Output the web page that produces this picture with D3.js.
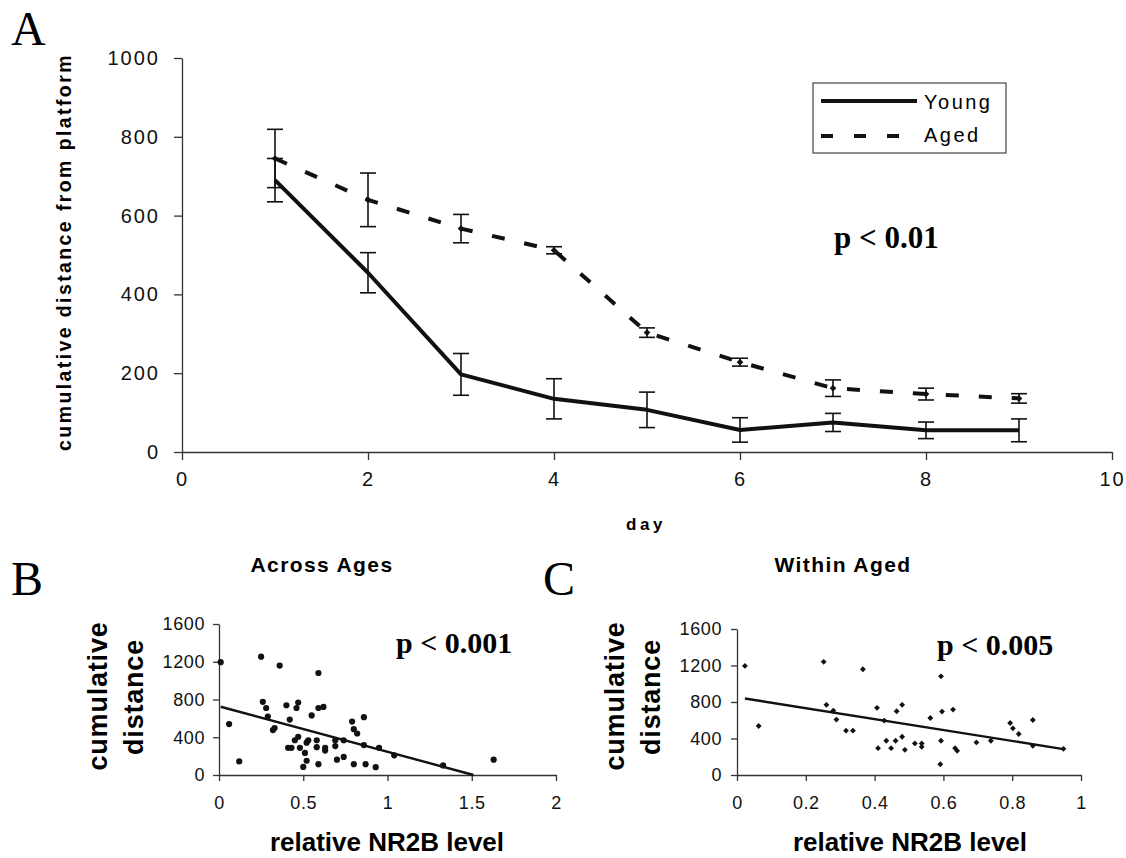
<!DOCTYPE html>
<html>
<head>
<meta charset="utf-8">
<script src="https://cdn.jsdelivr.net/npm/d3@7"></script>
<style>
body { margin: 0; background: #fff; }
svg { display: block; }
</style>
</head>
<body>
<div id="chart"></div>
<script>
// Panel A: learning curves (mean +/- error per day)
var days = [1, 2, 3, 4, 5, 6, 7, 8, 9];
var youngMean = [690, 455, 197, 135, 107, 56, 75, 55, 55];
var youngErr = [55, 51, 53, 51, 45, 31, 23, 21, 29];
var agedMean = [745, 640, 567, 512, 303, 228, 162, 147, 136];
var agedErr = [74, 68, 36, 9, 12, 10, 21, 15, 12];
var dayTicks = [0, 2, 4, 6, 8, 10];
var distTicks = [0, 200, 400, 600, 800, 1000];

// Panel B: across ages (NR2B level vs cumulative distance)
var acrossX = [0.01, 0.06, 0.12, 0.25, 0.36, 0.59, 0.26, 0.28, 0.29, 0.32, 0.33, 0.40, 0.42, 0.47, 0.46, 0.55, 0.59, 0.62,
    0.79, 0.80, 0.82, 0.86, 0.41, 0.43, 0.45, 0.47, 0.48, 0.51, 0.52, 0.53, 0.52, 0.50, 0.58, 0.58, 0.59, 0.63, 0.63,
    0.69, 0.69, 0.70, 0.74, 0.74, 0.80, 0.86, 0.87, 0.93, 0.95, 1.04, 1.33, 1.63];
var acrossY = [1196, 540, 144, 1254, 1160, 1081, 775, 710, 620, 476, 497, 739, 587, 768, 710, 631, 710, 721,
    566, 486, 440, 613, 288, 288, 368, 404, 288, 234, 342, 368, 151, 86, 368, 295, 115, 288, 259,
    306, 368, 162, 368, 191, 115, 317, 115, 83, 288, 209, 101, 162];
var acrossFit = [728, -482];   // intercept, slope
var acrossXTicks = [0, 0.5, 1, 1.5, 2];

// Panel C: within aged
var agedX = [0.023, 0.063, 0.252, 0.366, 0.260, 0.280, 0.289, 0.317, 0.337, 0.407, 0.428, 0.410, 0.434, 0.448, 0.461,
    0.464, 0.480, 0.480, 0.488, 0.517, 0.537, 0.537, 0.562, 0.593, 0.596, 0.593, 0.591, 0.628, 0.634, 0.640,
    0.696, 0.738, 0.794, 0.802, 0.819, 0.860, 0.860, 0.949];
var agedY = [1195, 537, 1240, 1159, 769, 706, 607, 486, 486, 736, 596, 294, 375, 294, 375,
    699, 769, 419, 276, 346, 346, 309, 625, 1081, 695, 375, 118, 717, 294, 265,
    357, 375, 570, 511, 449, 603, 320, 287];
var agedFit = [852, -599];
var agedXTicks = [0, 0.2, 0.4, 0.6, 0.8, 1];
var scatterYTicks = [0, 400, 800, 1200, 1600];

var sans = "'Liberation Sans', Arial, sans-serif";
var serif = "'Liberation Serif', 'Times New Roman', serif";
var plain = d3.format("~g");

var svg = d3.select("#chart").append("svg")
    .attr("width", 1126)
    .attr("height", 858);

// panel letters
svg.append("text").attr("x", 11).attr("y", 45).text("A")
    .style("font-family", serif).style("font-size", "48px");
svg.append("text").attr("x", 11).attr("y", 595).text("B")
    .style("font-family", serif).style("font-size", "48px");
svg.append("text").attr("x", 543).attr("y", 595).text("C")
    .style("font-family", serif).style("font-size", "48px");

function styleAxis(g, fontSize, spacing) {
    g.select(".domain").attr("stroke", "#333").attr("stroke-width", 1.3);
    g.selectAll(".tick line").attr("stroke", "#333").attr("stroke-width", 1.3);
    g.selectAll(".tick text")
        .style("font-family", sans)
        .style("font-size", fontSize + "px")
        .style("letter-spacing", spacing + "px")
        .attr("fill", "#111");
}

// ---------- Panel A ----------
var xA = d3.scaleLinear().domain([0, 10]).range([182, 1112]);
var yA = d3.scaleLinear().domain([0, 1000]).range([452, 58]);

var gx = svg.append("g")
    .attr("transform", "translate(0,452)")
    .call(d3.axisBottom(xA).tickValues(dayTicks).tickFormat(plain)
        .tickSize(8).tickSizeOuter(0).tickPadding(12));
styleAxis(gx, 20, 2);

var gy = svg.append("g")
    .attr("transform", "translate(182,0)")
    .call(d3.axisLeft(yA).tickValues(distTicks).tickFormat(d3.format("d"))
        .tickSize(8).tickSizeOuter(0).tickPadding(14));
styleAxis(gy, 20, 2);

svg.append("text")
    .attr("transform", "translate(71,252) rotate(-90)")
    .attr("text-anchor", "middle")
    .text("cumulative distance from platform")
    .style("font-family", sans).style("font-weight", "bold")
    .style("font-size", "19.5px").style("letter-spacing", "2.4px");

svg.append("text")
    .attr("x", 646).attr("y", 530)
    .attr("text-anchor", "middle")
    .text("day")
    .style("font-family", sans).style("font-weight", "bold")
    .style("font-size", "17px").style("letter-spacing", "3.5px");

var youngData = days.map(function(d, i) { return { day: d, v: youngMean[i], e: youngErr[i] }; });
var agedData = days.map(function(d, i) { return { day: d, v: agedMean[i], e: agedErr[i] }; });

var line = d3.line()
    .x(function(d) { return xA(d.day); })
    .y(function(d) { return yA(d.v); });

function errorBars(data) {
    var g = svg.append("g").attr("stroke", "#111").attr("stroke-width", 1.6);
    var cap = 8;
    data.forEach(function(d) {
        var x = xA(d.day);
        g.append("line").attr("x1", x).attr("x2", x).attr("y1", yA(d.v - d.e)).attr("y2", yA(d.v + d.e));
        g.append("line").attr("x1", x - cap).attr("x2", x + cap).attr("y1", yA(d.v - d.e)).attr("y2", yA(d.v - d.e));
        g.append("line").attr("x1", x - cap).attr("x2", x + cap).attr("y1", yA(d.v + d.e)).attr("y2", yA(d.v + d.e));
    });
}

errorBars(agedData);
errorBars(youngData);

svg.append("path")
    .datum(agedData)
    .attr("d", line)
    .attr("fill", "none")
    .attr("stroke", "#111")
    .attr("stroke-width", 4)
    .attr("stroke-dasharray", "13,20");

svg.append("g").selectAll("path")
    .data(agedData)
    .join("path")
    .attr("d", d3.symbol(d3.symbolSquare, 22))
    .attr("transform", function(d) { return "translate(" + xA(d.day) + "," + yA(d.v) + ") rotate(45)"; })
    .attr("fill", "#111");

svg.append("path")
    .datum(youngData)
    .attr("d", line)
    .attr("fill", "none")
    .attr("stroke", "#111")
    .attr("stroke-width", 4)
    .attr("stroke-linejoin", "round");

// legend
var leg = svg.append("g");
leg.append("rect")
    .attr("x", 813).attr("y", 83).attr("width", 193).attr("height", 70)
    .attr("fill", "#fff").attr("stroke", "#444").attr("stroke-width", 1.2);
leg.append("line")
    .attr("x1", 821).attr("x2", 917).attr("y1", 101).attr("y2", 101)
    .attr("stroke", "#111").attr("stroke-width", 4);
leg.append("line")
    .attr("x1", 821).attr("x2", 900).attr("y1", 136).attr("y2", 136)
    .attr("stroke", "#111").attr("stroke-width", 4).attr("stroke-dasharray", "12,21");
leg.append("text").attr("x", 924).attr("y", 109).text("Young")
    .style("font-family", sans).style("font-size", "20px").style("letter-spacing", "2.5px");
leg.append("text").attr("x", 924).attr("y", 142).text("Aged")
    .style("font-family", sans).style("font-size", "20px").style("letter-spacing", "2.5px");

svg.append("text").attr("x", 834).attr("y", 248).text("p < 0.01")
    .style("font-family", serif).style("font-weight", "bold").style("font-size", "31px");

// ---------- Panels B and C ----------
function scatterPanel(opt) {
    var x = d3.scaleLinear().domain(opt.xDomain).range(opt.xRange);
    var y = d3.scaleLinear().domain([0, 1600]).range(opt.yRange);

    var ax = svg.append("g")
        .attr("transform", "translate(0," + opt.yRange[0] + ")")
        .call(d3.axisBottom(x).tickValues(opt.xTicks).tickFormat(plain)
            .tickSize(6).tickSizeOuter(0).tickPadding(15));
    styleAxis(ax, 18, 0.6);

    var ay = svg.append("g")
        .attr("transform", "translate(" + opt.xRange[0] + ",0)")
        .call(d3.axisLeft(y).tickValues(scatterYTicks).tickFormat(d3.format("d"))
            .tickSize(6).tickSizeOuter(0).tickPadding(opt.yPad));
    styleAxis(ay, 18, 0.6);

    // regression line
    var x0 = d3.min(opt.xs);
    var x1 = Math.min(d3.max(opt.xs), -opt.fit[0] / opt.fit[1]);
    svg.append("line")
        .attr("x1", x(x0)).attr("y1", y(opt.fit[0] + opt.fit[1] * x0))
        .attr("x2", x(x1)).attr("y2", y(opt.fit[0] + opt.fit[1] * x1))
        .attr("stroke", "#111").attr("stroke-width", 2.4);

    var pts = opt.xs.map(function(v, i) { return [v, opt.ys[i]]; });
    if (opt.marker === "dot") {
        svg.append("g").selectAll("circle")
            .data(pts)
            .join("circle")
            .attr("cx", function(d) { return x(d[0]); })
            .attr("cy", function(d) { return y(d[1]); })
            .attr("r", 3.1)
            .attr("fill", "#111");
    } else {
        svg.append("g").selectAll("path")
            .data(pts)
            .join("path")
            .attr("d", d3.symbol(d3.symbolSquare, 17))
            .attr("transform", function(d) { return "translate(" + x(d[0]) + "," + y(d[1]) + ") rotate(45)"; })
            .attr("fill", "#111");
    }

    svg.append("text").attr("x", opt.titleX).attr("y", 572)
        .attr("text-anchor", "middle").text(opt.title)
        .style("font-family", sans).style("font-weight", "bold")
        .style("font-size", "21px").style("letter-spacing", "1.4px");

    svg.append("text").attr("transform", "translate(" + opt.ylabX[0] + ",696) rotate(-90)")
        .attr("text-anchor", "middle").text("cumulative")
        .style("font-family", sans).style("font-weight", "bold")
        .style("font-size", "27px").style("letter-spacing", "0.8px");
    svg.append("text").attr("transform", "translate(" + opt.ylabX[1] + ",697) rotate(-90)")
        .attr("text-anchor", "middle").text("distance")
        .style("font-family", sans).style("font-weight", "bold")
        .style("font-size", "27px").style("letter-spacing", "0.8px");

    svg.append("text").attr("x", opt.xlabX).attr("y", 851)
        .attr("text-anchor", "middle").text("relative NR2B level")
        .style("font-family", sans).style("font-weight", "bold").style("font-size", "26px");

    svg.append("text").attr("x", opt.pX).attr("y", opt.pY).text(opt.pText)
        .style("font-family", serif).style("font-weight", "bold").style("font-size", "30px");
}

scatterPanel({
    xDomain: [0, 2], xRange: [219, 556], yRange: [775, 624],
    xTicks: acrossXTicks, yPad: 8,
    xs: acrossX, ys: acrossY, fit: acrossFit, marker: "dot",
    title: "Across Ages", titleX: 322,
    ylabX: [107, 143], xlabX: 387,
    pText: "p < 0.001", pX: 396, pY: 653
});

scatterPanel({
    xDomain: [0, 1], xRange: [737, 1081], yRange: [775, 629],
    xTicks: agedXTicks, yPad: 9,
    xs: agedX, ys: agedY, fit: agedFit, marker: "diamond",
    title: "Within Aged", titleX: 843,
    ylabX: [624, 660], xlabX: 910,
    pText: "p < 0.005", pX: 937, pY: 655
});
</script>
</body>
</html>
